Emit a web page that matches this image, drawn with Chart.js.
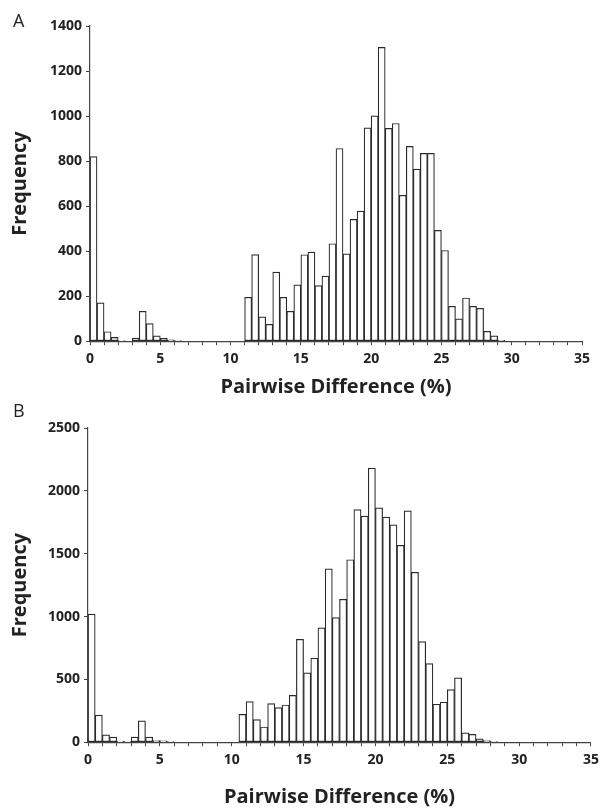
<!DOCTYPE html>
<html>
<head>
<meta charset="utf-8">
<script src="https://cdn.jsdelivr.net/npm/chart.js@4.4.1/dist/chart.umd.min.js"></script>
<style>
    body { margin: 0; background: #fff; width: 604px; height: 809px; overflow: hidden; }
    .wrap { position: absolute; left: 0; width: 604px; }
    .painel { position: absolute; left: 13px; font: 18px "Open Sans", sans-serif; color: #222; }
</style>
</head>
<body>
<div class="wrap" style="top:0; height:400px"><canvas id="graficoA" width="604" height="400"></canvas></div>
<div class="wrap" style="top:400px; height:409px"><canvas id="graficoB" width="604" height="409"></canvas></div>
<div class="painel" style="top:8px">A</div>
<div class="painel" style="top:398px">B</div>
<script>
// inicio de cada classe (largura 0.5%)
const inicioClasses = [
    0, 0.5, 1, 1.5, 2, 2.5, 3, 3.5, 4, 4.5, 5, 5.5, 6, 6.5, 7, 7.5, 8, 8.5, 9, 9.5,
    10, 10.5, 11, 11.5, 12, 12.5, 13, 13.5, 14, 14.5, 15, 15.5, 16, 16.5, 17, 17.5,
    18, 18.5, 19, 19.5, 20, 20.5, 21, 21.5, 22, 22.5, 23, 23.5, 24, 24.5, 25, 25.5,
    26, 26.5, 27, 27.5, 28, 28.5, 29, 29.5, 30, 30.5, 31, 31.5, 32, 32.5, 33, 33.5,
    34, 34.5
];

const frequenciaA = [
    820, 170, 42, 17, 3, 0, 14, 133, 78, 24, 13, 6, 2, 0, 0, 0, 0, 0, 0, 0,
    0, 0, 195, 385, 108, 75, 307, 195, 133, 250, 384, 396, 247, 289, 433, 856,
    388, 541, 578, 948, 1001, 1305, 945, 967, 648, 865, 764, 834, 834, 492, 403, 155,
    99, 192, 155, 146, 44, 24, 4, 0, 0, 0, 0, 0, 0, 0, 0, 0,
    0, 0
];

const frequenciaB = [
    1020, 216, 59, 40, 8, 5, 40, 170, 40, 13, 10, 3, 0, 0, 0, 0, 0, 0, 0, 0,
    0, 221, 323, 180, 121, 307, 275, 296, 372, 819, 552, 668, 910, 1379, 991, 1137,
    1452, 1850, 1799, 2180, 1864, 1791, 1729, 1567, 1840, 1352, 800, 625, 302, 318, 418, 512,
    75, 62, 27, 13, 3, 0, 0, 0, 0, 0, 0, 0, 0, 0, 0, 0,
    0, 0
];

const rotulosX = [0, 5, 10, 15, 20, 25, 30, 35];
const eixoYA = { max: 1400, passo: 200 };
const eixoYB = { max: 2500, passo: 500 };

Chart.defaults.font.family = "'Open Sans', sans-serif";
Chart.defaults.color = "#222";

function montarHistograma(idCanvas, frequencias, eixoY, ajuste) {
    const ctx = document.getElementById(idCanvas).getContext("2d");
    const pontos = inicioClasses.map((ini, i) => ({ x: ini + 0.25, y: frequencias[i] }));

    return new Chart(ctx, {
        type: 'bar',
        data: {
            datasets: [{
                data: pontos,
                backgroundColor: '#ffffff',
                borderColor: '#2a2a2a',
                borderWidth: 1.2,
                borderSkipped: false,
                barPercentage: 1,
                categoryPercentage: 1
            }]
        },
        options: {
            responsive: false,
            animation: false,
            devicePixelRatio: 1,
            layout: { padding: ajuste.padding },
            plugins: {
                legend: { display: false },
                tooltip: { enabled: false }
            },
            scales: {
                x: {
                    type: 'linear',
                    min: 0,
                    max: 35,
                    offset: false,
                    grid: { drawOnChartArea: false, offset: false, tickLength: 4, color: '#444' },
                    border: { color: '#444', width: 1.2 },
                    ticks: {
                        stepSize: 1,
                        autoSkip: false,
                        maxRotation: 0,
                        padding: 5,
                        font: { size: 14, weight: 'bold' },
                        callback: v => rotulosX.includes(v) ? String(v) : ''
                    },
                    title: {
                        display: true,
                        text: 'Pairwise Difference (%)',
                        font: { size: 20, weight: 'bold' },
                        padding: { top: ajuste.tituloX, bottom: 0 }
                    }
                },
                y: {
                    min: 0,
                    max: eixoY.max,
                    grid: { drawOnChartArea: false, tickLength: 4, color: '#444' },
                    border: { color: '#444', width: 1.2 },
                    ticks: {
                        stepSize: eixoY.passo,
                        padding: 4,
                        font: { size: 14, weight: 'bold' },
                        callback: v => String(v)
                    },
                    title: {
                        display: true,
                        text: 'Frequency',
                        font: { size: 20, weight: 'bold' },
                        padding: 0
                    },
                    afterFit: escala => { escala.width = ajuste.larguraY; }
                }
            }
        }
    });
}

montarHistograma("graficoA", frequenciaA, eixoYA,
    { padding: { left: 8, right: 22, top: 26, bottom: 1 }, larguraY: 82, tituloX: 3 });
montarHistograma("graficoB", frequenciaB, eixoYB,
    { padding: { left: 8, right: 0, top: 28, bottom: 0 }, larguraY: 80, tituloX: 12 });
</script>
</body>
</html>
